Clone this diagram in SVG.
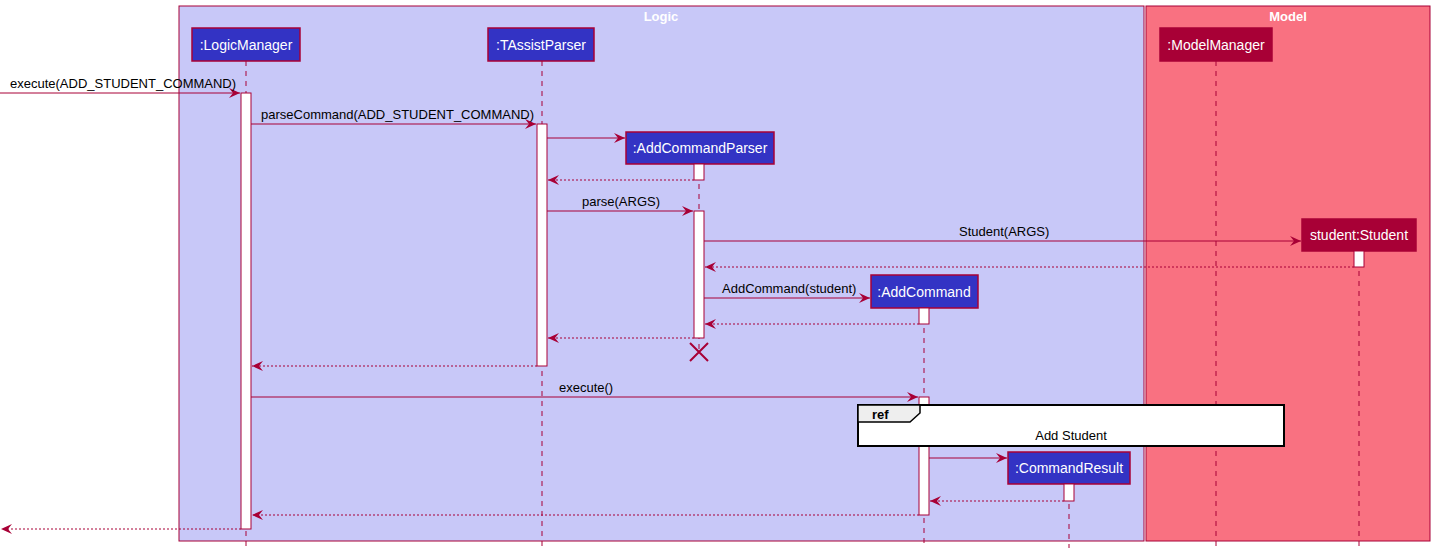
<svg xmlns="http://www.w3.org/2000/svg" width="1435" height="553" viewBox="0 0 1435 553">
<style>
text{font-family:"Liberation Sans",Arial,sans-serif;font-size:13px;fill:#000}
.pt{fill:#3333C4;stroke:#A80036;stroke-width:1.5}
.pm{fill:#A80036;stroke:#A80036;stroke-width:1.5}
.pl{fill:#fff;font-size:14px;text-anchor:middle}
.ll{stroke:#A80036;stroke-dasharray:5,5;fill:none}
.act{fill:#fff;stroke:#A80036}
.m{stroke:#A80036;fill:none;marker-end:url(#a)}
.r{stroke:#A80036;fill:none;stroke-dasharray:2,2;marker-end:url(#a)}
</style>
<defs><marker id="a" markerWidth="12" markerHeight="10" refX="11" refY="5" orient="auto" markerUnits="userSpaceOnUse"><path d="M0,0 L11,5 L0,10 L4,5 Z" fill="#A80036"/></marker></defs>
<rect x="179" y="6" width="965" height="535" fill="#C8C8F8" stroke="#A80036"/>
<text x="661" y="21" style="fill:#fff;font-weight:bold;text-anchor:middle">Logic</text>
<rect x="1146" y="6" width="284" height="535" fill="#F97181" stroke="#A80036"/>
<text x="1288" y="21" style="fill:#fff;font-weight:bold;text-anchor:middle">Model</text>
<g id="lifelines">
<line class="ll" x1="246" y1="61" x2="246" y2="548"/>
<line class="ll" x1="542" y1="61" x2="542" y2="548"/>
<line class="ll" x1="699" y1="164" x2="699" y2="352"/>
<line class="ll" x1="924" y1="308" x2="924" y2="548"/>
<line class="ll" x1="1069" y1="484" x2="1069" y2="548"/>
<line class="ll" x1="1216" y1="61" x2="1216" y2="548"/>
<line class="ll" x1="1359" y1="251" x2="1359" y2="548"/>
</g>
<g id="LogicManager"><rect class="pt" x="192" y="28" width="108" height="33"/><text class="pl" x="246" y="50">:LogicManager</text></g>
<g id="TAssistParser"><rect class="pt" x="488" y="28" width="106" height="33"/><text class="pl" x="541" y="50">:TAssistParser</text></g>
<g id="AddCommandParser"><rect class="pt" x="626" y="132" width="148" height="32"/><text class="pl" x="700" y="153">:AddCommandParser</text></g>
<g id="ModelManager"><rect class="pm" x="1160" y="28" width="112" height="33"/><text class="pl" x="1216" y="50">:ModelManager</text></g>
<g id="Student"><rect class="pm" x="1302" y="219" width="114" height="32"/><text class="pl" x="1359" y="240">student:Student</text></g>
<g id="AddCommand"><rect class="pt" x="871" y="275" width="107" height="33"/><text class="pl" x="924" y="297">:AddCommand</text></g>
<g id="CommandResult"><rect class="pt" x="1008" y="452" width="122" height="32"/><text class="pl" x="1069" y="473">:CommandResult</text></g>
<g id="activations">
<rect class="act" x="241" y="93" width="10" height="436"/>
<rect class="act" x="537" y="124" width="10" height="242"/>
<rect class="act" x="694" y="164" width="10" height="16"/>
<rect class="act" x="694" y="211" width="10" height="127"/>
<rect class="act" x="1354" y="251" width="10" height="16"/>
<rect class="act" x="919" y="308" width="10" height="16"/>
<rect class="act" x="919" y="397" width="10" height="118"/>
<rect class="act" x="1064" y="484" width="10" height="17"/>
</g>
<g id="connectors">
<line class="m" x1="0" y1="93" x2="240" y2="93"/><text x="10" y="88">execute(ADD_STUDENT_COMMAND)</text>
<line class="m" x1="251" y1="124" x2="536" y2="124"/><text x="261" y="119">parseCommand(ADD_STUDENT_COMMAND)</text>
<line class="m" x1="547" y1="138" x2="625" y2="138"/>
<line class="r" x1="694" y1="180" x2="548" y2="180"/>
<line class="m" x1="547" y1="211" x2="693" y2="211"/><text x="582" y="206">parse(ARGS)</text>
<line class="m" x1="704" y1="241" x2="1301" y2="241"/><text x="959" y="236">Student(ARGS)</text>
<line class="r" x1="1354" y1="267" x2="705" y2="267"/>
<line class="m" x1="704" y1="298" x2="870" y2="298"/><text x="722" y="293">AddCommand(student)</text>
<line class="r" x1="919" y1="324" x2="705" y2="324"/>
<line class="r" x1="694" y1="338" x2="548" y2="338"/>
<path d="M690,343 L708,361 M708,343 L690,361" stroke="#A80036" stroke-width="2"/>
<line class="r" x1="537" y1="366" x2="252" y2="366"/>
<line class="m" x1="251" y1="397" x2="918" y2="397"/><text x="559" y="392">execute()</text>
<line class="m" x1="929" y1="458" x2="1007" y2="458"/>
<line class="r" x1="1064" y1="501" x2="930" y2="501"/>
<line class="r" x1="919" y1="515" x2="252" y2="515"/>
<line class="r" x1="241" y1="529" x2="1" y2="529"/>
</g>
<g id="ref">
<rect x="858" y="405" width="426" height="41" fill="#fff" stroke="#000" stroke-width="2"/>
<path d="M858,405 L920,405 L920,413 L910,422 L858,422 Z" fill="#EEEEEE" stroke="#000" stroke-width="1.5"/>
<text x="872" y="419" style="font-weight:bold">ref</text>
<text x="1071" y="440" style="text-anchor:middle">Add Student</text>
</g>
</svg>
